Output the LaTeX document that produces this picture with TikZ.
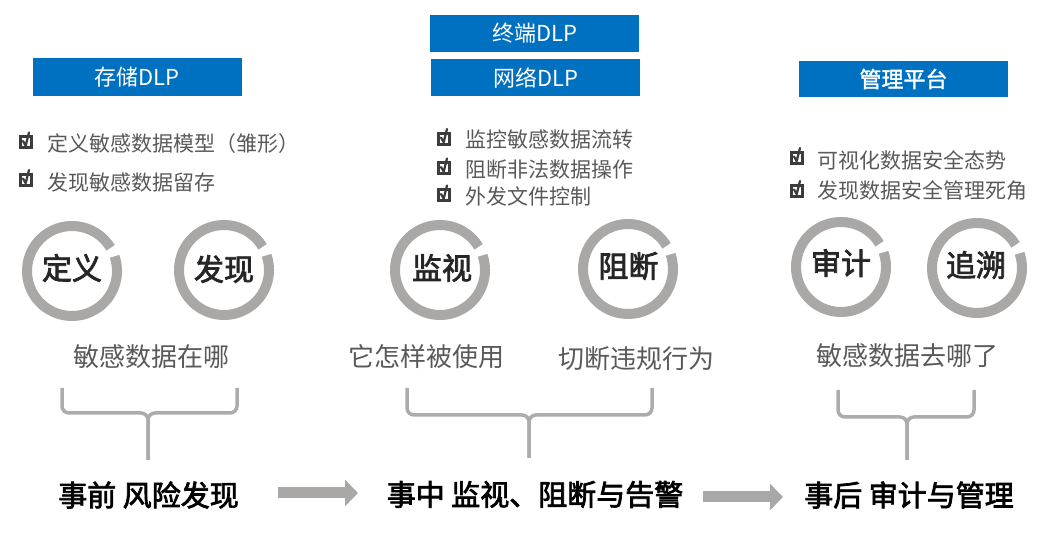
\documentclass[tikz,border=0pt]{standalone}
\usepackage{fontspec}
\setmainfont{Noto Sans CJK SC}
\newfontfamily\medfont[FakeBold=2.5]{Noto Sans CJK SC}
\newfontfamily\semifont[FakeBold=1.5]{Noto Sans CJK SC}
\usetikzlibrary{arrows.meta}
\definecolor{dlpblue}{RGB}{0,112,192}
\definecolor{ringgray}{RGB}{170,167,167}
\definecolor{bracegray}{RGB}{172,172,172}
\definecolor{txtgray}{RGB}{89,89,89}
\definecolor{chkdark}{RGB}{60,60,60}
\tikzset{
 pics/chkbox/.style={code={
   \draw[chkdark,line width=3pt] (-5.5,-5.5) rectangle (5.5,5.5);
   \draw[chkdark,line width=2.2pt,line cap=round,line join=round] (-3,1.5) -- (-0.3,-3.2) -- (3,10);
 }},
 hdr/.style={fill=dlpblue,text=white,minimum width=209pt,minimum height=37pt,inner sep=0pt,font=\fontsize{22}{26}\selectfont},
 item/.style={anchor=west,text=txtgray,inner sep=0pt,font=\fontsize{21}{25}\selectfont},
 ring/.style={draw=ringgray,line width=10pt},
 ringlbl/.style={text=black!85,inner sep=0pt,font=\fontsize{30}{34}\medfont},
 qlbl/.style={text=txtgray,inner sep=0pt,font=\fontsize{26}{30}\selectfont},
 phase/.style={text=black,inner sep=0pt,font=\fontsize{29}{33}\medfont},
 brace/.style={draw=bracegray,line width=3.5pt,rounded corners=7pt},
 blockarrow/.style={draw=ringgray,line width=11pt,-{Triangle[width=26pt,length=13pt]}},
}
\begin{document}
\begin{tikzpicture}[x=1pt,y=1pt]
\useasboundingbox (0,0) rectangle (1049,534);
% header boxes
\node[hdr,minimum height=38pt] (h1) at (137,457) {存储DLP};
\node[hdr] (h2) at (534.5,500.5) {终端DLP};
\node[hdr] (h3) at (535.5,456.5) {网络DLP};
\node[hdr,minimum height=36pt,font=\fontsize{22}{26}\semifont] (h4) at (903.5,455) {管理平台};
% check lists
\pic at (26,391.5) {chkbox};
\node[item] (l1) at (47,390) {定义敏感数据模型（雏形）};
\pic at (26,354) {chkbox};
\node[item] (l2) at (47,351) {发现敏感数据留存};
\pic at (444,395) {chkbox};
\node[item] (m1) at (465,394) {监控敏感数据流转};
\pic at (444,365.5) {chkbox};
\node[item] (m2) at (465,364.5) {阻断非法数据操作};
\pic at (444,338.5) {chkbox};
\node[item] (m3) at (465,337.5) {外发文件控制};
\pic at (797,376) {chkbox};
\node[item] (r1) at (817,374) {可视化数据安全态势};
\pic at (797,343) {chkbox};
\node[item] (r2) at (817,344) {发现数据安全管理死角};
% rings
\foreach \cx/\cy in {72/263,224/264,440/264,628/265,841/267,977/266}{
  \draw[ring] (\cx,\cy) ++(31:45) arc[start angle=31,end angle=379,radius=45];
}
\node[ringlbl] (c1) at (72,266) {定义};
\node[ringlbl] (c2) at (224,265) {发现};
\node[ringlbl] (c3) at (442,266) {监视};
\node[ringlbl] (c4) at (628.5,268) {阻断};
\node[ringlbl] (c5) at (841,271) {审计};
\node[ringlbl] (c6) at (976,269) {追溯};
% question labels
\node[qlbl] (q1) at (151,177) {敏感数据在哪};
\node[qlbl] (q2) at (426,177) {它怎样被使用};
\node[qlbl] (q3) at (636,175.5) {切断违规行为};
\node[qlbl] (q4) at (907.5,178.5) {敏感数据去哪了};
% braces
\draw[brace] (62,146) -- (62,121) -- (148,121) -- (148,74);
\draw[brace] (237,146) -- (237,121) -- (148,121) -- (148,74);
\draw[brace] (407,146) -- (407,119) -- (529,119) -- (529,76);
\draw[brace] (652,146) -- (652,119) -- (529,119) -- (529,76);
\draw[brace] (838,144) -- (838,117) -- (907,117) -- (907,74);
\draw[brace] (974,144) -- (974,117) -- (907,117) -- (907,74);
% phases
\node[phase] (t1) at (148.5,39) {事前 风险发现};
\node[phase] (t2) at (535,39.5) {事中 监视、阻断与告警};
\node[phase] (t3) at (909,39) {事后 审计与管理};
\coordinate (a1s) at (278,41);
\coordinate (a1e) at (358,41);
\coordinate (a2s) at (703,37);
\coordinate (a2e) at (783,37);
\draw[blockarrow] (a1s) -- (a1e);
\draw[blockarrow] (a2s) -- (a2e);
\end{tikzpicture}
\end{document}
